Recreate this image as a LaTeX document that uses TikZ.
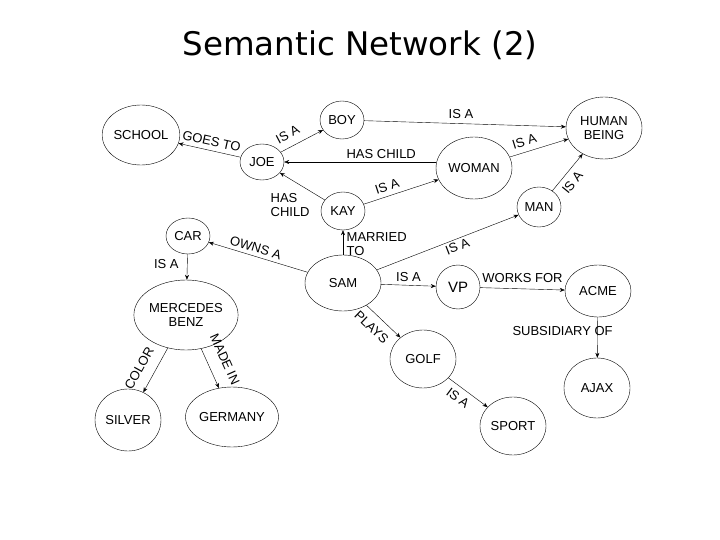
\documentclass[tikz,border=0pt]{standalone}
\usepackage{fontspec}
\setmainfont{Liberation Sans}
\newfontfamily\titlefont{DejaVu Sans}
\usetikzlibrary{arrows.meta,shapes.geometric,positioning}

\tikzset{
	concept/.style={ellipse,thin,draw,inner sep=0pt,font=\fontsize{13}{14}\selectfont},
	small/.style={concept,minimum width=44pt,minimum height=38pt},
	mid/.style={concept,minimum width=66pt,minimum height=58pt},
	big/.style={concept,minimum width=76pt,minimum height=62pt},
	rel/.style={font=\fontsize{13}{14}\selectfont,inner sep=1.5pt},
}

\begin{document}
\begin{tikzpicture}[x=1pt,y=-1pt]
	\useasboundingbox (0,0) rectangle (720,540);
	\node (title) at (360,45) {\titlefont\fontsize{32.5}{34}\selectfont Semantic Network (2)};

	\begin{scope}
		\node[big,minimum width=74pt,minimum height=60pt] (school) at (141,135) {SCHOOL};
		\node[small] (boy) at (342,120) {BOY};
		\node[small,minimum height=36pt] (joe) at (262,162) {JOE};
		\node[small] (kay) at (343,211) {KAY};
		\node[big,align=center] (human) at (604,128) {HUMAN\\BEING};
		\node[big] (woman) at (474,168) {WOMAN};
		\node[small,minimum height=40pt] (man) at (539,207) {MAN};
		\node[small,minimum height=36pt] (car) at (188,236) {CAR};
		\node[big,minimum height=56pt] (sam) at (343,283) {SAM};
		\node[small,minimum height=44pt] (vp) at (458,287) {\fontsize{15}{16}\selectfont VP};
		\node[mid,minimum height=52pt] (acme) at (598,291) {ACME};
		\node[big,minimum width=80pt,minimum height=70pt,align=center] (benz) at (186,315) {MERCEDES\\BENZ};
		\node[mid,minimum height=62pt] (silver) at (128,420) {SILVER};
		\node[big,minimum height=60pt] (germany) at (232,417) {GERMANY};
		\node[mid] (golf) at (423,359) {GOLF};
		\node[mid] (sport) at (513,426) {SPORT};
		\node[mid,minimum height=60pt] (ajax) at (597,388) {AJAX};
	\end{scope}

	\begin{scope}[every edge/.append style={draw,thin,-{Stealth[length=5pt,width=4pt]}}]
		\path (joe) edge node[rel,sloped,above=3pt,pos=0.5] {GOES TO} (school);
		\path (joe) edge node[rel,sloped,above=6pt,pos=0.3] {IS A} (boy);
		\path (boy) edge node[rel,above=3pt,pos=0.48] {IS A} (human);
		\path (woman.west |- joe.east) edge node[rel,above=2pt,pos=0.36] {HAS CHILD} (joe.east);
		\path (kay) edge node[rel,left,align=left,pos=0.3,yshift=-13pt] {HAS\\CHILD} (joe);
		\path (kay) edge node[rel,sloped,above=3pt,pos=0.35] {IS A} (woman);
		\path (woman) edge node[rel,sloped,above=4pt,pos=0.3] {IS A} (human);
		\path (man) edge node[rel,sloped,below=4pt,pos=0.4] {IS A} (human);
		\path (sam) edge node[rel,right=2pt,align=left,pos=0.45] {MARRIED\\TO} (kay);
		\path (sam) edge node[rel,sloped,below=1pt,pos=0.55] {IS A} (man);
		\path (sam) edge node[rel,sloped,above=2pt,pos=0.55] {OWNS A} (car);
		\path (car) edge node[rel,left=7pt,pos=0.4] {IS A} (benz);
		\path (sam) edge node[rel,above=2pt] {IS A} (vp);
		\path (vp) edge node[rel,above=5pt,pos=0.5] {WORKS FOR} (acme);
		\path (acme) edge node[rel,pos=0.35,xshift=-35pt] {SUBSIDIARY OF} (ajax);
		\path (sam) edge node[rel,sloped,below=6pt,pos=0.4] {PLAYS} (golf);
		\path (golf) edge node[rel,sloped,below=4pt,pos=0.4] {IS A} (sport);
		\path (benz) edge node[rel,sloped,above=9pt,pos=0.62] {COLOR} (silver);
		\path (benz) edge node[rel,sloped,above=11pt,pos=0.45] {MADE IN} (germany);
	\end{scope}
\end{tikzpicture}
\end{document}
